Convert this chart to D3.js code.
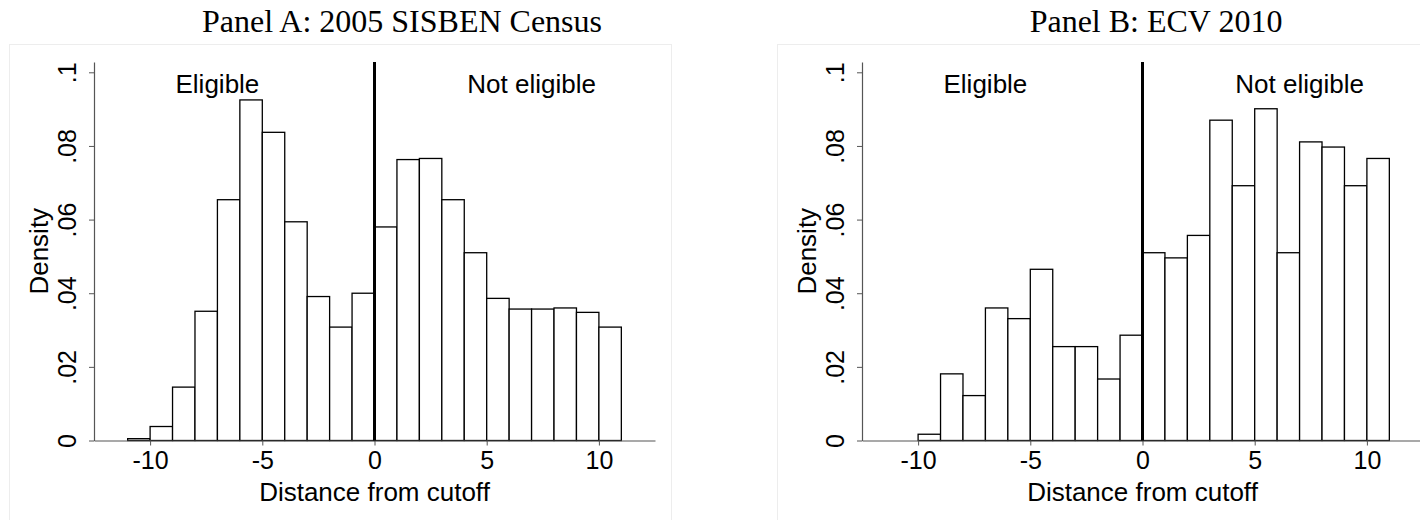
<!DOCTYPE html>
<html>
<head>
<meta charset="utf-8">
<script src="https://cdn.jsdelivr.net/npm/d3@7/dist/d3.min.js"></script>
<style>
  body { margin: 0; background: #fff; }
  svg { display: block; }
</style>
</head>
<body>
<svg id="chart" width="1420" height="520"></svg>
<script>
// Histogram bins: left edge of each unit-width bin (distance from cutoff)
const binsA = [-11, -10, -9, -8, -7, -6, -5, -4, -3, -2, -1, 0, 1, 2, 3, 4, 5, 6, 7, 8, 9, 10];
const densityA = [0.0005, 0.0038, 0.0145, 0.0351, 0.0654, 0.0925, 0.0837, 0.0594, 0.0391, 0.0308, 0.0400,
                  0.0580, 0.0763, 0.0766, 0.0654, 0.0510, 0.0386, 0.0357, 0.0357, 0.0360, 0.0348, 0.0308];

const binsB = [-10, -9, -8, -7, -6, -5, -4, -3, -2, -1, 0, 1, 2, 3, 4, 5, 6, 7, 8, 9, 10];
const densityB = [0.0017, 0.0181, 0.0122, 0.0360, 0.0331, 0.0465, 0.0255, 0.0255, 0.0167, 0.0286,
                  0.0510, 0.0496, 0.0557, 0.0870, 0.0692, 0.0901, 0.0510, 0.0811, 0.0797, 0.0692, 0.0766];

const binWidth = 1;
const cutoff = 0;

const xTicks = [-10, -5, 0, 5, 10];
const yTicks = [0, 0.02, 0.04, 0.06, 0.08, 0.1];
const yTickLabels = ["0", ".02", ".04", ".06", ".08", ".1"];

const panelTitles = ["Panel A: 2005 SISBEN Census", "Panel B: ECV 2010"];
const regionLabels = ["Eligible", "Not eligible"];
const regionLabelX = [-7, 7];
const regionLabelY = 0.097;
const xTitle = "Distance from cutoff";
const yTitle = "Density";

// Layout
const svg = d3.select("#chart");
const sans = "'Liberation Sans', Arial, Helvetica, sans-serif";
const serif = "'Liberation Serif', 'Times New Roman', serif";
const panelOffsets = [0, 768];
const titleCenters = [402, 388];
const frame = { x: 9, y: 44, w: 662, h: 500 };
const plot = { left: 94, right: 655, top: 62, bottom: 440.5 };

const x = d3.scaleLinear().domain([-12.5, 12.5]).range([plot.left, plot.right]);
const y = d3.scaleLinear().domain([0, 0.1028]).range([plot.bottom, plot.top]);

const panels = [
  { bins: binsA, density: densityA, title: panelTitles[0] },
  { bins: binsB, density: densityB, title: panelTitles[1] }
];

panels.forEach((p, i) => {
  const g = svg.append("g").attr("transform", `translate(${panelOffsets[i]},0)`);

  // graph region border
  g.append("rect")
    .attr("x", frame.x + 0.5).attr("y", frame.y + 0.5)
    .attr("width", frame.w).attr("height", frame.h)
    .attr("fill", "none").attr("stroke", "#ededed").attr("stroke-width", 1);

  // panel title
  g.append("text")
    .attr("x", titleCenters[i]).attr("y", 32)
    .attr("text-anchor", "middle")
    .style("font-family", serif).style("font-size", "32px").attr("fill", "#000")
    .text(p.title);

  // bars
  g.append("g").selectAll("rect")
    .data(p.bins.map((b, k) => ({ b, d: p.density[k] })))
    .join("rect")
    .attr("x", d => x(d.b))
    .attr("y", d => y(d.d))
    .attr("width", d => x(d.b + binWidth) - x(d.b))
    .attr("height", d => y(0) - y(d.d))
    .attr("fill", "#fff")
    .attr("stroke", "#000")
    .attr("stroke-width", 1.3);

  // x axis
  const xa = g.append("g")
    .attr("transform", `translate(0,${plot.bottom})`)
    .call(d3.axisBottom(x).tickValues(xTicks).tickSize(5).tickSizeOuter(0).tickFormat(d => String(d)));
  xa.select(".domain").attr("stroke", "#555").attr("stroke-width", 1.2);
  xa.selectAll(".tick line").attr("stroke", "#555").attr("stroke-width", 1);
  xa.selectAll(".tick text")
    .attr("y", 11).attr("dy", "0.71em")
    .style("font-family", sans).style("font-size", "25px").attr("fill", "#000");

  // y axis
  const ya = g.append("g")
    .attr("transform", `translate(${plot.left},0)`)
    .call(d3.axisLeft(y).tickValues(yTicks).tickSize(5).tickSizeOuter(0)
      .tickFormat((d, k) => yTickLabels[k]));
  ya.select(".domain").attr("stroke", "#555").attr("stroke-width", 1.2);
  ya.selectAll(".tick line").attr("stroke", "#555").attr("stroke-width", 1);
  ya.selectAll(".tick text")
    .attr("x", null).attr("dy", null)
    .attr("transform", "translate(-18,0) rotate(-90)")
    .attr("text-anchor", "middle")
    .style("font-family", sans).style("font-size", "25px").attr("fill", "#000");

  // cutoff line
  g.append("line")
    .attr("x1", x(cutoff)).attr("x2", x(cutoff))
    .attr("y1", y(0)).attr("y2", plot.top)
    .attr("stroke", "#000").attr("stroke-width", 3);

  // region labels
  regionLabels.forEach((lab, k) => {
    g.append("text")
      .attr("x", x(regionLabelX[k])).attr("y", y(regionLabelY))
      .attr("dy", "0.36em")
      .attr("text-anchor", "middle")
      .style("font-family", sans).style("font-size", "26px").attr("fill", "#000")
      .text(lab);
  });

  // axis titles
  g.append("text")
    .attr("x", x(0)).attr("y", 501)
    .attr("text-anchor", "middle")
    .style("font-family", sans).style("font-size", "26px").attr("fill", "#000")
    .text(xTitle);

  g.append("text")
    .attr("transform", `translate(48,${(plot.top + plot.bottom) / 2}) rotate(-90)`)
    .attr("text-anchor", "middle")
    .style("font-family", sans).style("font-size", "26px").attr("fill", "#000")
    .text(yTitle);
});
</script>
</body>
</html>
